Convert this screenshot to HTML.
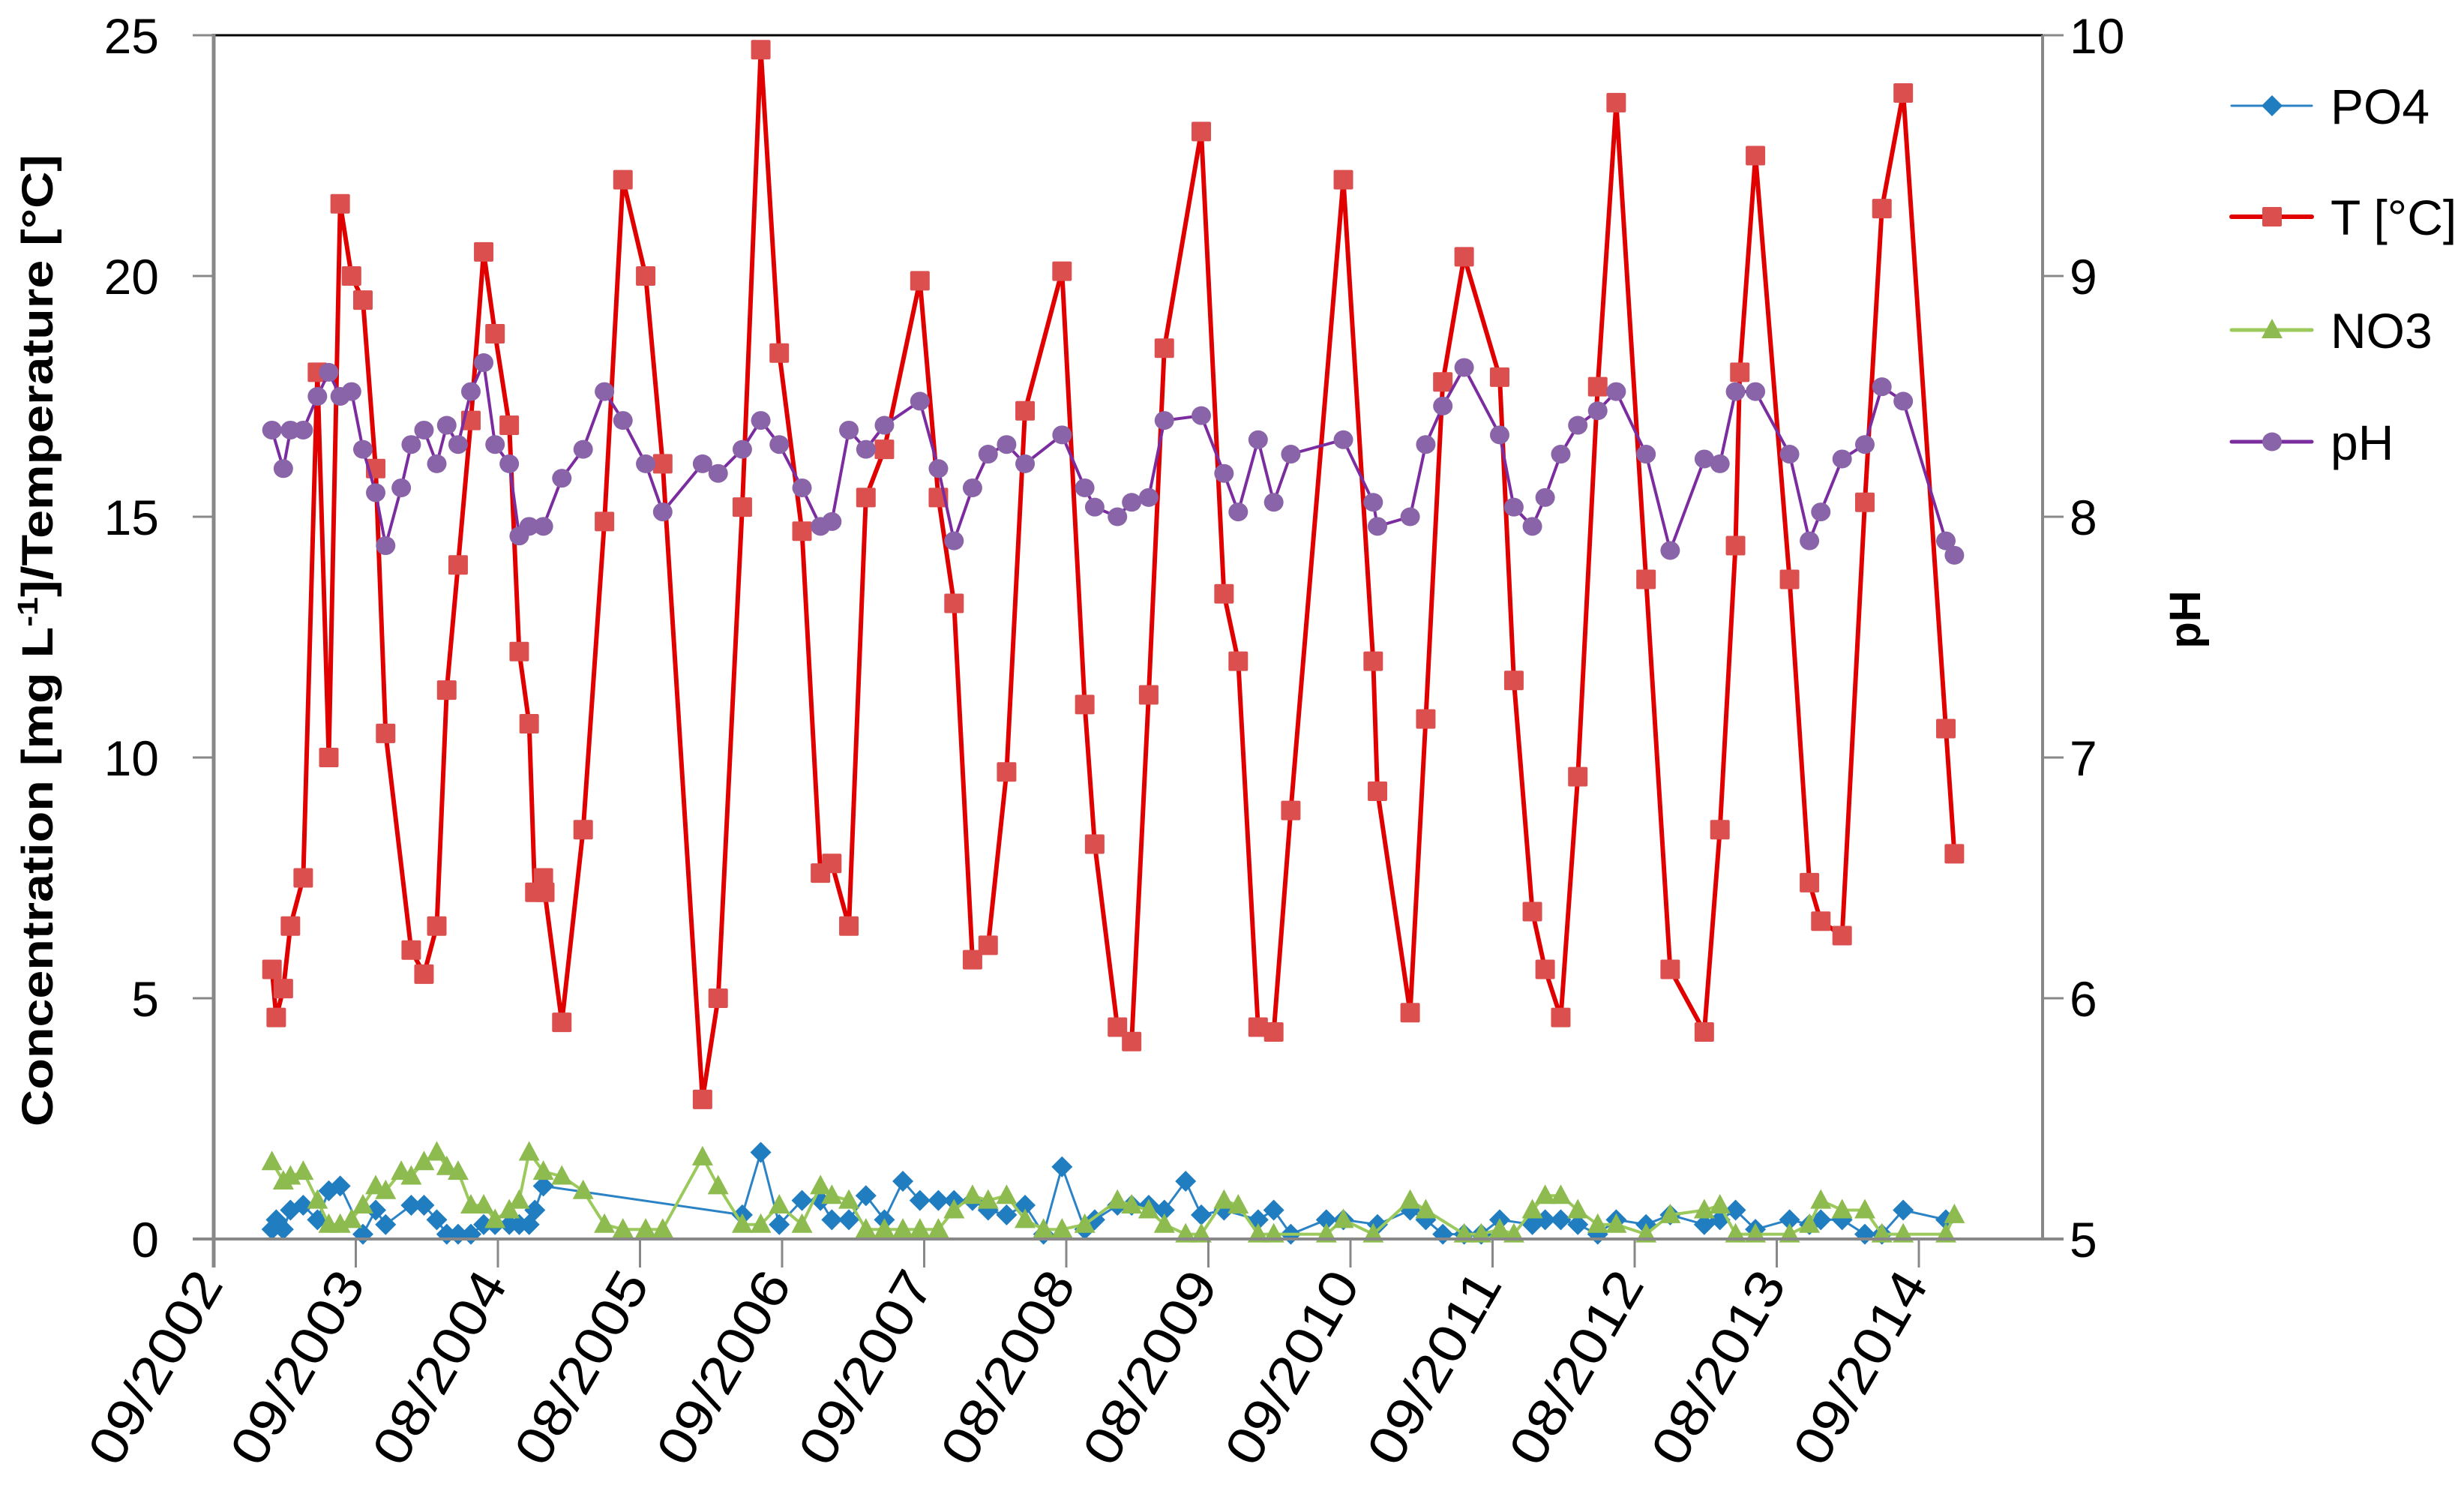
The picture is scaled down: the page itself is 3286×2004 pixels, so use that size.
<!DOCTYPE html>
<html><head><meta charset="utf-8">
<style>
html,body{margin:0;padding:0;background:#fff;}
svg{display:block;font-family:"Liberation Sans",sans-serif;}
</style></head>
<body>
<svg id="chart" width="3286" height="2004" viewBox="0 0 3286 2004" xmlns="http://www.w3.org/2000/svg">
<rect x="0" y="0" width="3286" height="2004" fill="#fff"/>
<g id="plot"></g>
<g id="axes"></g>
<text transform="translate(70,854) rotate(-90)" text-anchor="middle" font-size="58" font-weight="bold" textLength="1296" lengthAdjust="spacingAndGlyphs">Concentration [mg L<tspan dy="-20" font-size="38">-1</tspan><tspan dy="20">]/Temperature [°C]</tspan></text>
<text transform="translate(2934,826) rotate(-90)" text-anchor="middle" font-size="58" font-weight="bold">pH</text>
<g id="legend"></g>
</svg>
<script>
// ---- data ----
const xTickLabels = ["09/2002","09/2003","08/2004","08/2005","09/2006","09/2007","08/2008","08/2009","09/2010","09/2011","08/2012","08/2013","09/2014"];
const yTicks = [0,5,10,15,20,25];
const y2Ticks = [5,6,7,8,9,10];

const tX = [0.41,0.44,0.49,0.54,0.63,0.73,0.81,0.89,0.97,1.05,1.14,1.21,1.39,1.48,1.57,1.64,1.72,1.81,1.90,1.98,2.08,2.15,2.22,2.26,2.32,2.33,2.45,2.60,2.75,2.88,3.04,3.16,3.44,3.55,3.72,3.85,3.98,4.14,4.27,4.35,4.47,4.59,4.72,4.97,5.10,5.21,5.34,5.45,5.58,5.71,5.97,6.13,6.20,6.36,6.46,6.58,6.69,6.95,7.11,7.21,7.35,7.46,7.58,7.95,8.16,8.19,8.42,8.53,8.65,8.80,9.05,9.15,9.28,9.37,9.48,9.60,9.74,9.87,10.08,10.25,10.49,10.60,10.71,10.74,10.85,11.09,11.23,11.31,11.46,11.62,11.74,11.89,12.19,12.25];
const tempValues = [5.6,4.6,5.2,6.5,7.5,18,10,21.5,20,19.5,16,10.5,6,5.5,6.5,11.4,14,17,20.5,18.8,16.9,12.2,10.7,7.2,7.5,7.2,4.5,8.5,14.9,22,20,16.1,2.9,5,15.2,24.7,18.4,14.7,7.6,7.8,6.5,15.4,16.4,19.9,15.4,13.2,5.8,6.1,9.7,17.2,20.1,11.1,8.2,4.4,4.1,11.3,18.5,23,13.4,12,4.4,4.3,8.9,22,12,9.3,4.7,10.8,17.8,20.4,17.9,11.6,6.8,5.6,4.6,9.6,17.7,23.6,13.7,5.6,4.3,8.5,14.4,18,22.5,13.7,7.4,6.6,6.3,15.3,21.4,23.8,10.6,8];

const phX = [0.41,0.49,0.54,0.63,0.73,0.81,0.89,0.97,1.05,1.14,1.21,1.32,1.39,1.48,1.57,1.64,1.72,1.81,1.90,1.98,2.08,2.15,2.22,2.32,2.45,2.60,2.75,2.88,3.04,3.16,3.44,3.55,3.72,3.85,3.98,4.14,4.27,4.35,4.47,4.59,4.72,4.97,5.10,5.21,5.34,5.45,5.58,5.71,5.97,6.13,6.20,6.36,6.46,6.58,6.69,6.95,7.11,7.21,7.35,7.46,7.58,7.95,8.16,8.19,8.42,8.53,8.65,8.80,9.05,9.15,9.28,9.37,9.48,9.60,9.74,9.87,10.08,10.25,10.49,10.60,10.71,10.85,11.09,11.23,11.31,11.46,11.62,11.74,11.89,12.19,12.25];
const phValues = [8.36,8.20,8.36,8.36,8.50,8.60,8.50,8.52,8.28,8.10,7.88,8.12,8.30,8.36,8.22,8.38,8.30,8.52,8.64,8.30,8.22,7.92,7.96,7.96,8.16,8.28,8.52,8.40,8.22,8.02,8.22,8.18,8.28,8.40,8.30,8.12,7.96,7.98,8.36,8.28,8.38,8.48,8.20,7.90,8.12,8.26,8.30,8.22,8.34,8.12,8.04,8.00,8.06,8.08,8.40,8.42,8.18,8.02,8.32,8.06,8.26,8.32,8.06,7.96,8.00,8.30,8.46,8.62,8.34,8.04,7.96,8.08,8.26,8.38,8.44,8.52,8.26,7.86,8.24,8.22,8.52,8.52,8.26,7.90,8.02,8.24,8.30,8.54,8.48,7.90,7.84];

const po4X = [0.41,0.44,0.49,0.54,0.63,0.73,0.81,0.89,1.05,1.14,1.21,1.39,1.48,1.57,1.64,1.72,1.81,1.90,1.98,2.08,2.15,2.22,2.26,2.32,3.72,3.85,3.98,4.14,4.27,4.35,4.47,4.59,4.72,4.85,4.97,5.10,5.21,5.34,5.45,5.58,5.71,5.84,5.97,6.13,6.20,6.36,6.46,6.58,6.69,6.84,6.95,7.11,7.35,7.46,7.58,7.83,7.95,8.19,8.42,8.53,8.65,8.80,8.92,9.05,9.28,9.37,9.48,9.60,9.74,9.87,10.08,10.25,10.49,10.60,10.71,10.85,11.09,11.23,11.31,11.46,11.62,11.74,11.89,12.19];
const po4Values = [0.2,0.4,0.2,0.6,0.7,0.4,1.0,1.1,0.1,0.6,0.3,0.7,0.7,0.4,0.1,0.1,0.1,0.3,0.3,0.3,0.3,0.3,0.6,1.1,0.5,1.8,0.3,0.8,0.8,0.4,0.4,0.9,0.4,1.2,0.8,0.8,0.8,0.8,0.6,0.5,0.7,0.1,1.5,0.2,0.4,0.7,0.7,0.7,0.6,1.2,0.5,0.6,0.4,0.6,0.1,0.4,0.4,0.3,0.6,0.4,0.1,0.1,0.1,0.4,0.3,0.4,0.4,0.3,0.1,0.4,0.3,0.5,0.3,0.4,0.6,0.2,0.4,0.3,0.4,0.4,0.1,0.1,0.6,0.4];

const no3X = [0.41,0.49,0.54,0.63,0.73,0.81,0.89,0.97,1.05,1.14,1.21,1.32,1.39,1.48,1.57,1.64,1.72,1.81,1.90,1.98,2.08,2.15,2.22,2.32,2.45,2.60,2.75,2.88,3.04,3.16,3.44,3.55,3.72,3.85,3.98,4.14,4.27,4.35,4.47,4.59,4.72,4.85,4.97,5.10,5.21,5.34,5.45,5.58,5.71,5.84,5.97,6.13,6.36,6.46,6.58,6.69,6.84,6.95,7.11,7.21,7.35,7.46,7.83,7.95,8.16,8.42,8.53,8.80,8.92,9.05,9.15,9.28,9.37,9.48,9.60,9.74,9.87,10.08,10.25,10.49,10.60,10.71,10.85,11.09,11.23,11.31,11.46,11.62,11.74,11.89,12.19,12.25];
const no3Values = [1.6,1.2,1.3,1.4,0.8,0.3,0.3,0.4,0.7,1.1,1.0,1.4,1.3,1.6,1.8,1.5,1.4,0.7,0.7,0.4,0.6,0.8,1.8,1.4,1.3,1.0,0.3,0.2,0.2,0.2,1.7,1.1,0.3,0.3,0.7,0.3,1.1,0.9,0.8,0.2,0.2,0.2,0.2,0.2,0.6,0.9,0.8,0.9,0.4,0.2,0.2,0.3,0.8,0.7,0.6,0.3,0.1,0.1,0.8,0.7,0.1,0.1,0.1,0.4,0.1,0.8,0.6,0.1,0.1,0.2,0.1,0.6,0.9,0.9,0.6,0.3,0.3,0.1,0.5,0.6,0.7,0.1,0.1,0.1,0.3,0.8,0.6,0.6,0.1,0.1,0.1,0.5];

// ---- geometry ----
const L=285, R=2724, T=47, B=1652, TICKW=189.5;
const xS = t => L + t*TICKW;
const yS = v => B - (v/25)*(B-T);
const y2S = v => B - ((v-5)/5)*(B-T);
const NS="http://www.w3.org/2000/svg";
function mk(tag, attrs, parent){const e=document.createElementNS(NS,tag);for(const k in attrs)e.setAttribute(k,attrs[k]);parent.appendChild(e);return e;}
const plot=document.getElementById('plot'), axes=document.getElementById('axes'), legend=document.getElementById('legend');

function marker(kind, x, y, color, parent){
  let e;
  if(kind==='diamond') e=mk('polygon',{points:`${x},${y-14} ${x+14},${y} ${x},${y+14} ${x-14},${y}`,fill:color},parent);
  else if(kind==='square') e=mk('rect',{x:x-13,y:y-13,width:26,height:26,fill:color,rx:2},parent);
  else if(kind==='triangle') e=mk('polygon',{points:`${x},${y-15} ${x+14},${y+11} ${x-14},${y+11}`,fill:color},parent);
  else e=mk('ellipse',{cx:x,cy:y,rx:13,ry:12.5,fill:color},parent);
  return e;
}
function series(name, xs, vs, scale, lineColor, lw, kind, mColor){
  const g=mk('g',{},plot);
  
  
  const pts=xs.map((t,i)=>`${xS(t).toFixed(1)},${scale(vs[i]).toFixed(1)}`).join(' ');
  const pl=mk('polyline',{points:pts,fill:'none',stroke:lineColor,'stroke-width':lw,'stroke-linejoin':'round'},g);
  
  
  xs.forEach((t,i)=>{
    const m=marker(kind,xS(t),scale(vs[i]),mColor,g);
    
    
  });
}
series('po4', po4X, po4Values, yS, '#2B83C6', 3, 'diamond', '#1F7DC0');
series('temperature', tX, tempValues, yS, '#E00000', 6, 'square', '#DC4F4F');
series('no3', no3X, no3Values, yS, '#9BC95C', 4, 'triangle', '#8DBB4F');
series('ph', phX, phValues, y2S, '#7B2DA0', 4, 'circle', '#8A64A8');

// frame
let e;
e=mk('line',{x1:L,y1:T,x2:R,y2:T,stroke:'#000','stroke-width':3},axes);


e=mk('line',{x1:L,y1:T-2,x2:L,y2:B+38,stroke:'#888','stroke-width':5},axes);


e=mk('line',{x1:L-28,y1:B,x2:R+28,y2:B,stroke:'#888','stroke-width':4},axes);


e=mk('line',{x1:R,y1:T,x2:R,y2:B,stroke:'#888','stroke-width':4},axes);



yTicks.forEach(v=>{
  const y=yS(v);
  const tk=mk('line',{x1:L-28,y1:y,x2:L,y2:y,stroke:'#888','stroke-width':3},axes);
  
  
  const tx=mk('text',{x:212,y:y+24,'text-anchor':'end','font-size':66},axes);
  tx.textContent=v;
  
  
});
y2Ticks.forEach(v=>{
  const y=y2S(v);
  const tk=mk('line',{x1:R,y1:y,x2:R+28,y2:y,stroke:'#888','stroke-width':3},axes);
  
  
  const tx=mk('text',{x:2760,y:y+24,'text-anchor':'start','font-size':66},axes);
  tx.textContent=v;
  
  
});
xTickLabels.forEach((lab,i)=>{
  const x=xS(i);
  const tk=mk('line',{x1:x,y1:B,x2:x,y2:B+38,stroke:'#888','stroke-width':3},axes);
  
  
  const tx=mk('text',{transform:`translate(${x+14},${1712}) rotate(-60)`,'text-anchor':'end','font-size':70,textLength:285,lengthAdjust:'spacingAndGlyphs'},axes);
  tx.textContent=lab;
  
  
});

// legend
const legNames=['PO4','T [°C]','NO3','pH'];
const legY=[141,289,440,589];
const legStyle=[['#2B83C6',3,'diamond','#1F7DC0'],['#E00000',6,'square','#DC4F4F'],['#9BC95C',5,'triangle','#8DBB4F'],['#7B2DA0',5,'circle','#8A64A8']];
legNames.forEach((n,i)=>{
  const g=mk('g',{},legend);
  
  
  const s=legStyle[i];
  mk('line',{x1:2976,y1:legY[i],x2:3083,y2:legY[i],stroke:s[0],'stroke-width':s[1],'stroke-linecap':'round'},g);
  marker(s[2],3030,legY[i],s[3],g);
  const t=mk('text',{x:3108,y:legY[i]+24,'font-size':66},g);
  t.textContent=n;
});
</script>
</body></html>
